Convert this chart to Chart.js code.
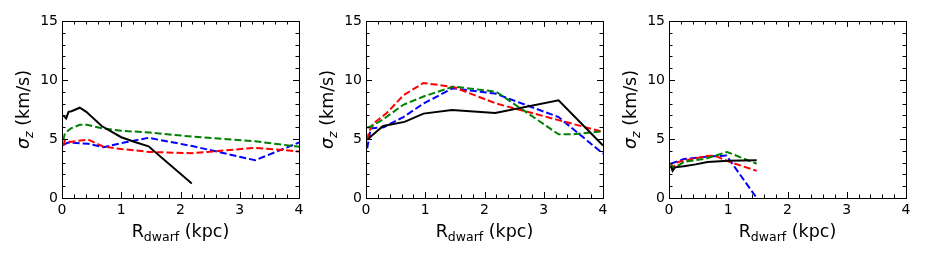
<!DOCTYPE html>
<html>
<head>
<meta charset="utf-8">
<script src="https://cdn.jsdelivr.net/npm/chart.js@4"></script>
<style>
  body { margin: 0; background: #fff; width: 926px; height: 258px; overflow: hidden; position: relative; }
  .panel { position: absolute; top: 0; width: 309px; height: 258px; }
</style>
</head>
<body>
<div class="panel" style="left:0px"><canvas id="c0" width="309" height="258"></canvas></div>
<div class="panel" style="left:304px"><canvas id="c1" width="309" height="258"></canvas></div>
<div class="panel" style="left:607px"><canvas id="c2" width="309" height="258"></canvas></div>
<script>
// axis ticks
const xTicks = [0, 1, 2, 3, 4];
const yTicks = [0, 5, 10, 15];

// panel 1
const p1BlackR = [0.02, 0.07, 0.11, 0.16, 0.3, 0.41, 0.67, 1.0, 1.23, 1.46, 2.19];
const p1BlackS = [7.0, 6.75, 7.3, 7.35, 7.65, 7.3, 6.1, 5.15, 4.75, 4.38, 1.22];
const p1GreenR = [0.02, 0.05, 0.15, 0.3, 0.42, 0.68, 1.0, 1.48, 2.2, 3.26, 4.0];
const p1GreenS = [4.9, 5.5, 5.9, 6.2, 6.2, 5.9, 5.7, 5.55, 5.2, 4.8, 4.35];
const p1RedR = [0.02, 0.05, 0.13, 0.44, 0.7, 1.0, 1.48, 2.2, 3.26, 4.0];
const p1RedS = [4.4, 4.9, 4.75, 4.95, 4.35, 4.15, 3.9, 3.8, 4.25, 3.95];
const p1BlueR = [0.02, 0.1, 0.44, 0.7, 1.05, 1.46, 2.2, 3.26, 4.0];
const p1BlueS = [4.5, 4.7, 4.6, 4.3, 4.7, 5.1, 4.4, 3.2, 4.7];

// panel 2
const p2BlackR = [0.04, 0.1, 0.29, 0.65, 0.97, 1.45, 2.18, 3.25, 4.0];
const p2BlackS = [5.0, 5.3, 6.1, 6.45, 7.15, 7.45, 7.2, 8.28, 4.45];
const p2GreenR = [0.02, 0.1, 0.3, 0.63, 0.97, 1.48, 2.2, 3.25, 3.5, 4.0];
const p2GreenS = [5.95, 6.1, 6.7, 7.9, 8.6, 9.45, 9.0, 5.4, 5.4, 5.65];
const p2RedR = [0.02, 0.05, 0.12, 0.35, 0.63, 0.97, 1.48, 2.2, 3.25, 4.0];
const p2RedS = [4.9, 5.6, 6.3, 7.2, 8.7, 9.75, 9.4, 8.0, 6.6, 5.6];
const p2BlueR = [0.02, 0.08, 0.3, 0.63, 0.97, 1.46, 2.18, 3.25, 4.0];
const p2BlueS = [4.2, 5.9, 6.0, 6.86, 8.0, 9.3, 8.85, 6.86, 3.76];

// panel 3
const p3BlackR = [0.03, 0.06, 0.1, 0.25, 0.45, 0.65, 1.0, 1.48];
const p3BlackS = [2.7, 2.3, 2.6, 2.7, 2.85, 3.05, 3.15, 3.2];
const p3GreenR = [0.03, 0.07, 0.25, 0.63, 0.98, 1.48];
const p3GreenS = [2.85, 2.5, 3.05, 3.35, 3.9, 2.9];
const p3RedR = [0.03, 0.07, 0.15, 0.63, 0.77, 1.0, 1.48];
const p3RedS = [2.9, 2.6, 3.05, 3.55, 3.6, 3.1, 2.3];
const p3BlueR = [0.03, 0.25, 0.63, 0.97, 1.48];
const p3BlueS = [2.9, 3.3, 3.5, 3.6, 0.0];

const FONT = "'DejaVu Sans', sans-serif";

function pts(r, s) {
  return r.map((x, i) => ({ x: x, y: s[i] }));
}

function lineSet(r, s, color, dashed) {
  return {
    data: pts(r, s),
    borderColor: color,
    borderWidth: 2,
    borderDash: dashed ? [7, 3] : [],
    pointRadius: 0,
    fill: false,
    tension: 0,
  };
}

const panelData = [
  [[p1BlackR, p1BlackS], [p1GreenR, p1GreenS], [p1RedR, p1RedS], [p1BlueR, p1BlueS]],
  [[p2BlackR, p2BlackS], [p2GreenR, p2GreenS], [p2RedR, p2RedS], [p2BlueR, p2BlueS]],
  [[p3BlackR, p3BlackS], [p3GreenR, p3GreenS], [p3RedR, p3RedS], [p3BlueR, p3BlueS]],
];
const colors = ['#000000', '#008000', '#ff0000', '#0000ff'];

// frame, inward ticks, axis titles with subscripts
const framePlugin = {
  id: 'frame',
  afterDraw(chart) {
    const ctx = chart.ctx;
    const a = chart.chartArea;
    const xs = chart.scales.x;
    const ys = chart.scales.y;
    ctx.save();
    ctx.strokeStyle = '#000';
    ctx.lineWidth = 1;
    ctx.strokeRect(Math.round(a.left) + 0.5, Math.round(a.top) + 0.5,
      Math.round(a.right - a.left), Math.round(a.bottom - a.top));
    ctx.beginPath();
    for (let i = 0; i <= 20; i++) {
      const v = i * 0.2;
      const len = i % 5 === 0 ? 6 : 3.5;
      const px = Math.round(xs.getPixelForValue(v)) + 0.5;
      ctx.moveTo(px, a.bottom); ctx.lineTo(px, a.bottom - len);
      ctx.moveTo(px, a.top); ctx.lineTo(px, a.top + len);
    }
    for (let v = 0; v <= 15; v++) {
      const len = v % 5 === 0 ? 6 : 3.5;
      const py = Math.round(ys.getPixelForValue(v)) + 0.5;
      ctx.moveTo(a.left, py); ctx.lineTo(a.left + len, py);
      ctx.moveTo(a.right, py); ctx.lineTo(a.right - len, py);
    }
    ctx.stroke();

    // x title: R_dwarf (kpc)
    ctx.fillStyle = '#000';
    ctx.textBaseline = 'alphabetic';
    const big = '17.5px ' + FONT;
    const small = '12.5px ' + FONT;
    ctx.font = big;
    const wR = ctx.measureText('R').width;
    const wK = ctx.measureText(' (kpc)').width;
    ctx.font = small;
    const wD = ctx.measureText('dwarf').width;
    let x0 = (a.left + a.right) / 2 - (wR + wD + wK) / 2;
    const yb = 237;
    ctx.font = big;
    ctx.fillText('R', x0, yb);
    ctx.font = small;
    ctx.fillText('dwarf', x0 + wR, yb + 4);
    ctx.font = big;
    ctx.fillText(' (kpc)', x0 + wR + wD, yb);

    // y title: sigma_z (km/s)
    ctx.save();
    ctx.translate(28.5, (a.top + a.bottom) / 2);
    ctx.rotate(-Math.PI / 2);
    const ital = 'italic 17.5px ' + FONT;
    const italSmall = 'italic 12.5px ' + FONT;
    ctx.font = ital;
    const wS = ctx.measureText('σ').width;
    ctx.font = italSmall;
    const wZ = ctx.measureText('z').width;
    ctx.font = big;
    const wU = ctx.measureText(' (km/s)').width;
    let y0 = -(wS + wZ + wU) / 2;
    ctx.font = ital;
    ctx.fillText('σ', y0, 0);
    ctx.font = italSmall;
    ctx.fillText('z', y0 + wS, 4);
    ctx.font = big;
    ctx.fillText(' (km/s)', y0 + wS + wZ, 0);
    ctx.restore();
    ctx.restore();
  },
};

panelData.forEach((sets, k) => {
  new Chart(document.getElementById('c' + k), {
    type: 'line',
    data: {
      datasets: sets.map((d, i) => lineSet(d[0], d[1], colors[i], i > 0)),
    },
    options: {
      responsive: false,
      animation: false,
      events: [],
      layout: { padding: { left: 0, right: 10, top: 21, bottom: 0 } },
      plugins: { legend: { display: false }, tooltip: { enabled: false } },
      scales: {
        x: {
          type: 'linear',
          min: 0,
          max: 4,
          afterBuildTicks: (s) => { s.ticks = xTicks.map((v) => ({ value: v })); },
          afterFit: (s) => { s.height = 60; },
          grid: { display: false, drawTicks: false },
          border: { display: false },
          ticks: { color: '#000', font: { family: FONT, size: 14 }, padding: 4, maxRotation: 0 },
        },
        y: {
          min: 0,
          max: 15,
          afterBuildTicks: (s) => { s.ticks = yTicks.map((v) => ({ value: v })); },
          afterFit: (s) => { s.width = 62; },
          grid: { display: false, drawTicks: false },
          border: { display: false },
          ticks: { color: '#000', font: { family: FONT, size: 14 }, padding: 4 },
        },
      },
    },
    plugins: [framePlugin],
  });
});
</script>
</body>
</html>
